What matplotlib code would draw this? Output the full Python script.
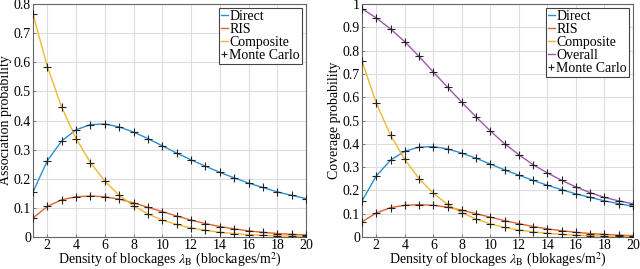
import matplotlib
matplotlib.use("Agg")
import matplotlib.pyplot as plt
import numpy as np
from matplotlib.lines import Line2D

plt.rcParams['font.family'] = ['Liberation Serif', 'DejaVu Serif']
plt.rcParams['mathtext.fontset'] = 'stix'

x = list(range(1, 21))

# Left panel: association probability
assoc_direct = [0.155, 0.262, 0.330, 0.368, 0.386, 0.388, 0.378, 0.360, 0.338, 0.313,
                0.288, 0.265, 0.243, 0.222, 0.203, 0.185, 0.170, 0.155, 0.143, 0.132]
assoc_ris = [0.065, 0.105, 0.128, 0.138, 0.141, 0.138, 0.130, 0.117, 0.102, 0.087,
             0.072, 0.058, 0.046, 0.036, 0.028, 0.021, 0.016, 0.012, 0.009, 0.007]
assoc_comp = [0.765, 0.585, 0.445, 0.338, 0.255, 0.192, 0.143, 0.107, 0.079, 0.058,
              0.043, 0.031, 0.023, 0.016, 0.012, 0.008, 0.006, 0.004, 0.003, 0.002]

# Right panel: coverage probability
cov_direct = [0.155, 0.262, 0.330, 0.368, 0.386, 0.388, 0.378, 0.360, 0.338, 0.313,
              0.288, 0.265, 0.243, 0.222, 0.203, 0.185, 0.170, 0.155, 0.143, 0.132]
cov_ris = [0.065, 0.103, 0.126, 0.136, 0.139, 0.136, 0.128, 0.115, 0.100, 0.085,
           0.070, 0.057, 0.045, 0.035, 0.027, 0.020, 0.015, 0.011, 0.008, 0.006]
cov_comp = [0.755, 0.575, 0.437, 0.333, 0.250, 0.188, 0.140, 0.104, 0.077, 0.056,
            0.041, 0.030, 0.022, 0.016, 0.011, 0.008, 0.006, 0.004, 0.003, 0.002]
cov_overall = [0.980, 0.940, 0.893, 0.838, 0.775, 0.708, 0.643, 0.578, 0.515, 0.455,
               0.400, 0.353, 0.310, 0.275, 0.243, 0.215, 0.190, 0.170, 0.155, 0.143]

c_direct = '#2b8fd6'
c_ris = '#e0632e'
c_comp = '#f0b830'
c_overall = '#9a5aa8'

fig = plt.figure(figsize=(6.4, 2.69), dpi=100)
top, bot = 4, 237
ax1 = fig.add_axes([33/640, 1-bot/269, (306-33)/640, (bot-top)/269])
ax2 = fig.add_axes([362/640, 1-bot/269, (633-362)/640, (bot-top)/269])

def style(ax, ymax, yticks, ylabels, ylabel, xlabel):
    ax.set_xlim(1, 20)
    ax.set_ylim(0, ymax)
    ax.set_xticks(range(2, 21, 2))
    ax.set_yticks(yticks)
    ax.set_yticklabels(ylabels)
    ax.grid(True, color='#dddddd', linewidth=0.8)
    ax.set_axisbelow(True)
    for s in ax.spines.values():
        s.set_color('#666666')
        s.set_linewidth(0.8)
    ax.tick_params(direction='in', length=2, width=0.6, color='#666666',
                   labelsize=10, pad=1.5, top=False, right=False)
    ax.set_ylabel(ylabel, fontsize=10, labelpad=1)
    ax.set_xlabel(xlabel, fontsize=10, labelpad=-1)

def plot_series(ax, series):
    handles = []
    for vals, col, lab in series:
        ax.plot(x, vals, color=col, linewidth=1.0, zorder=2)
        handles.append(Line2D([], [], color=col, linewidth=1.0, label=lab))
    for vals, col, lab in series:
        ax.plot(x, vals, linestyle='none', marker='+', color='#222222',
                markersize=6, markeredgewidth=0.8, zorder=3)
    handles.append(Line2D([], [], linestyle='none', marker='+', color='#222222',
                          markersize=5, markeredgewidth=0.8, label='Monte Carlo'))
    leg = ax.legend(handles=handles, loc='upper right', fontsize=10,
                    handlelength=0.5, handletextpad=0.1, borderpad=0.15,
                    labelspacing=0.0, borderaxespad=0.3, fancybox=False,
                    framealpha=1, edgecolor='#444444')
    leg.get_frame().set_linewidth(0.8)

plot_series(ax1, [(assoc_direct, c_direct, 'Direct'),
                  (assoc_ris, c_ris, 'RIS'),
                  (assoc_comp, c_comp, 'Composite')])
style(ax1, 0.8, np.arange(0, 0.81, 0.1),
      ['0', '0.1', '0.2', '0.3', '0.4', '0.5', '0.6', '0.7', '0.8'],
      'Association probability',
      r'Density of blockages $\lambda_{\mathrm{B}}$ (blockages/m$^2$)')

plot_series(ax2, [(cov_direct, c_direct, 'Direct'),
                  (cov_ris, c_ris, 'RIS'),
                  (cov_comp, c_comp, 'Composite'),
                  (cov_overall, c_overall, 'Overall')])
style(ax2, 1.0, np.arange(0, 1.01, 0.1),
      ['0', '0.1', '0.2', '0.3', '0.4', '0.5', '0.6', '0.7', '0.8', '0.9', '1'],
      'Coverage probability',
      r'Density of blockages $\lambda_{\mathrm{B}}$ (blokages/m$^2$)')

fig.savefig('out.png', dpi=100)
